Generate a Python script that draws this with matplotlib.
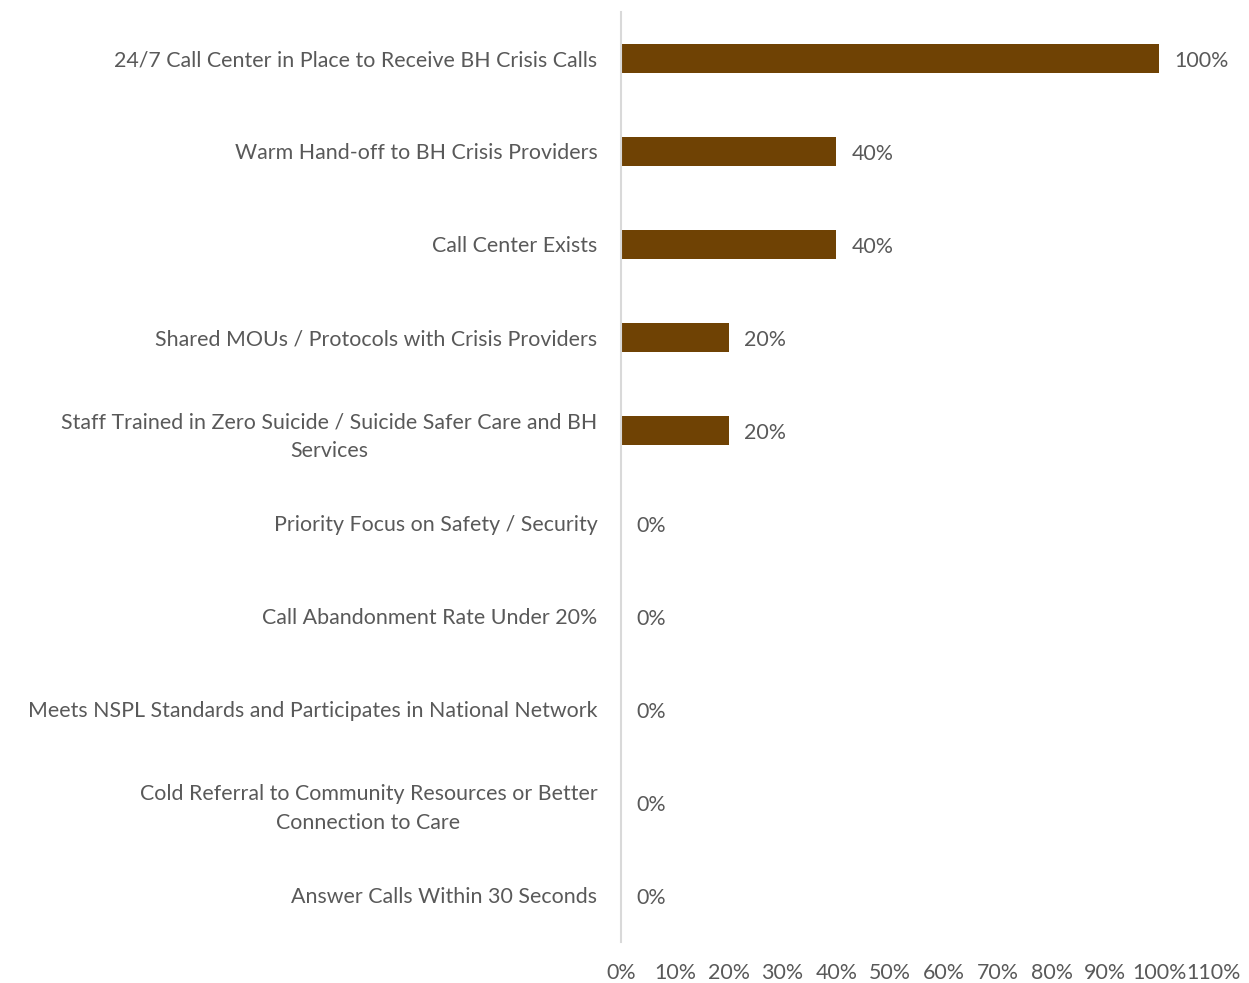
import matplotlib
matplotlib.use("Agg")
import matplotlib.pyplot as plt
from matplotlib.ticker import MultipleLocator, FuncFormatter

categories = [
    "24/7 Call Center in Place to Receive BH Crisis Calls",
    "Warm Hand-off to BH Crisis Providers",
    "Call Center Exists",
    "Shared MOUs / Protocols with Crisis Providers",
    "Staff Trained in Zero Suicide / Suicide Safer Care and BH\nServices",
    "Priority Focus on Safety / Security",
    "Call Abandonment Rate Under 20%",
    "Meets NSPL Standards and Participates in National Network",
    "Cold Referral to Community Resources or Better\nConnection to Care",
    "Answer Calls Within 30 Seconds",
]
values = [1.00, 0.40, 0.40, 0.20, 0.20, 0.0, 0.0, 0.0, 0.0, 0.0]

bar_color = "#6F4204"
text_color = "#595959"
plt.rcParams["font.family"] = ["Lato", "DejaVu Sans"]

fig = plt.figure(figsize=(12.49, 9.83), dpi=100)
ax = fig.add_axes([621 / 1249, 1 - 942 / 983, (1213 - 621) / 1249, (942 - 12) / 983])

y = list(range(len(categories)))
ax.barh(y, values, height=0.32, color=bar_color)
ax.set_ylim(len(categories) - 0.5, -0.5)
ax.set_xlim(0, 1.1)

ax.set_yticks(y)
ax.set_yticklabels(categories, fontsize=15.4, color=text_color,
                   multialignment="center", linespacing=1.55)
ax.tick_params(axis="y", length=0, pad=17)
ax.xaxis.set_major_locator(MultipleLocator(0.1))
ax.xaxis.set_major_formatter(FuncFormatter(lambda v, _: f"{round(v * 100):d}%"))
ax.tick_params(axis="x", length=0, labelsize=15.4, labelcolor=text_color, pad=15)

for s in ["top", "right", "bottom"]:
    ax.spines[s].set_visible(False)
ax.spines["left"].set_color("#D9D9D9")
ax.spines["left"].set_linewidth(1.5)

for yi, v in zip(y, values):
    ax.annotate(f"{round(v * 100):d}%", (v, yi), xytext=(15, -3), textcoords="offset pixels",
                va="center", ha="left", fontsize=15.4, color=text_color)

fig.savefig("out.png", dpi=100, facecolor="white")
